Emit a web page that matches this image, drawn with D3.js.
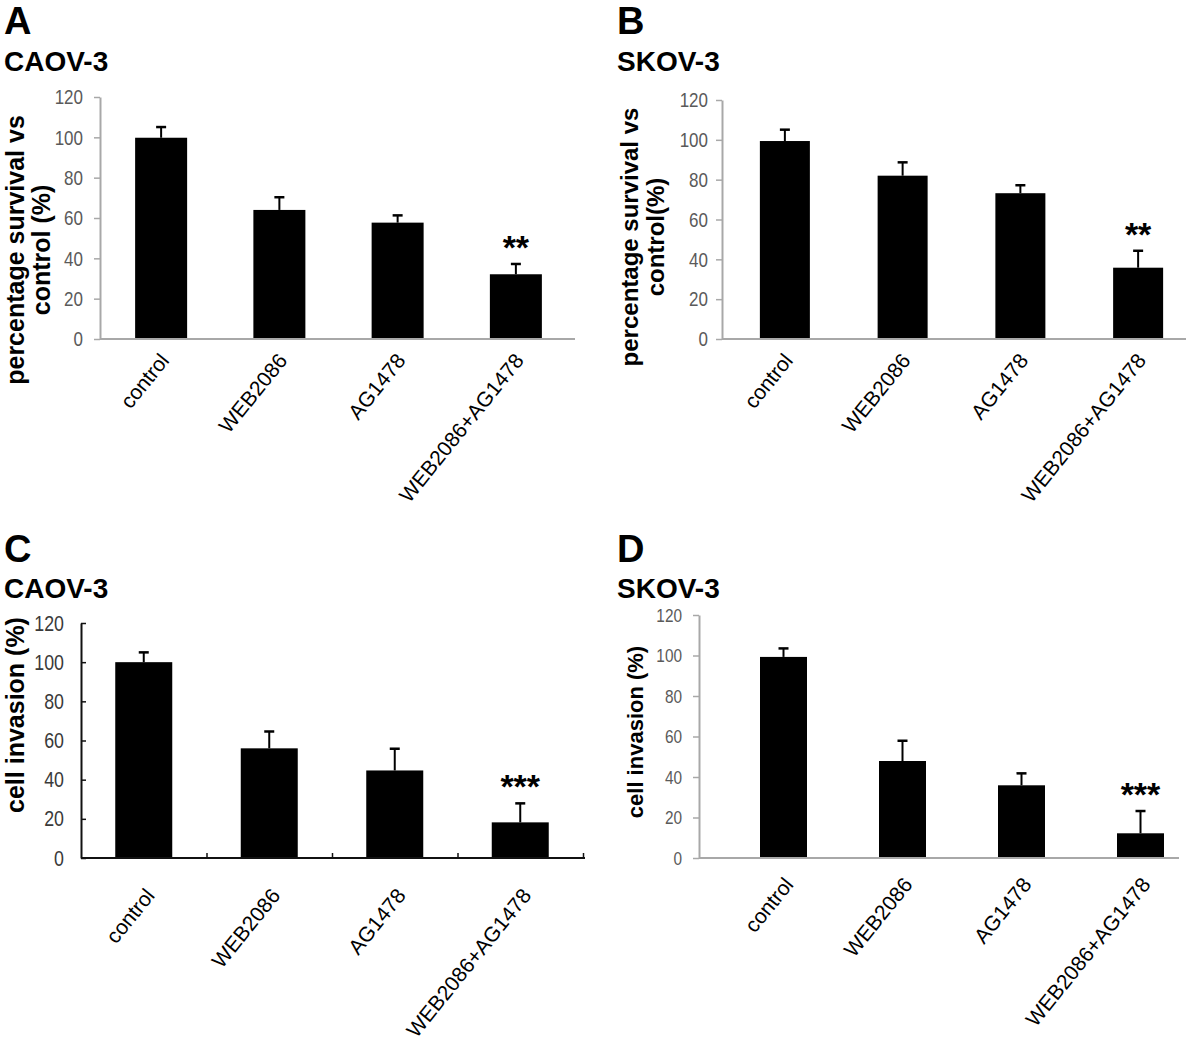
<!DOCTYPE html>
<html>
<head>
<meta charset="utf-8">
<script src="https://cdn.jsdelivr.net/npm/d3@7"></script>
<style>
  body { margin: 0; background: #fff; }
  svg { display: block; font-family: "Liberation Sans", Arial, sans-serif; }
</style>
</head>
<body>
<svg id="fig" width="1200" height="1044"></svg>
<script>
// categories and tick values shared by all four panels
let categories = ['control', 'WEB2086', 'AG1478', 'WEB2086+AG1478'];
let yTicks = [0, 20, 40, 60, 80, 100, 120];

// A: CAOV-3 survival, B: SKOV-3 survival
let survivalCAOV = [99.8, 64.0, 57.7, 32.1];
let survivalCAOVErr = [5.3, 6.3, 3.6, 5.1];
let survivalSKOV = [99.4, 82.0, 73.2, 35.8];
let survivalSKOVErr = [5.7, 6.7, 4.0, 8.5];

// C: CAOV-3 invasion, D: SKOV-3 invasion
let invasionCAOV = [100, 56.0, 44.7, 18.2];
let invasionCAOVErr = [5.0, 8.6, 11.1, 9.7];
let invasionSKOV = [99.3, 47.9, 35.9, 12.2];
let invasionSKOVErr = [4.2, 10.0, 5.9, 11.0];

let survivalStars = ['', '', '', '**'];
let invasionStars = ['', '', '', '***'];

// panel layout (positions and styles only)
let panels = [
    {
        letter: 'A', cell: 'CAOV-3', left: 4, letterY: 34, cellY: 71,
        values: survivalCAOV, errors: survivalCAOVErr, stars: survivalStars,
        axisX: 100, axisEnd: 575, yTop: 97, yBottom: 339,
        band: [102, 575], barWidth: 52,
        label: ['percentage survival vs', 'control (%)'], labelSize: 25,
        labelX: [24, 50], labelY: 250,
        tickSize: 6, tickPad: 11, tickFont: 21, tickColor: '#5a5a5a', axisColor: '#a8a8a8',
        catX: 9, catY: 22, catFont: 21, inner: false
    },
    {
        letter: 'B', cell: 'SKOV-3', left: 617, letterY: 34, cellY: 71,
        values: survivalSKOV, errors: survivalSKOVErr, stars: survivalStars,
        axisX: 722, axisEnd: 1186, yTop: 100, yBottom: 339,
        band: [726, 1197], barWidth: 50,
        label: ['percentage survival vs', 'control(%)'], labelSize: 24,
        labelX: [638, 664], labelY: 237,
        tickSize: 6, tickPad: 8, tickFont: 21, tickColor: '#5a5a5a', axisColor: '#a8a8a8',
        catX: 9, catY: 22, catFont: 21, inner: false
    },
    {
        letter: 'C', cell: 'CAOV-3', left: 4, letterY: 562, cellY: 598,
        values: invasionCAOV, errors: invasionCAOVErr, stars: invasionStars,
        axisX: 81, axisEnd: 585, yTop: 623, yBottom: 858,
        band: [81, 583], barWidth: 57,
        label: ['cell invasion (%)'], labelSize: 25,
        labelX: [24], labelY: 715,
        tickSize: -5, tickPad: 17, tickFont: 22, tickColor: '#3a3a3a', axisColor: '#111',
        catX: 12, catY: 38, catFont: 21, inner: true
    },
    {
        letter: 'D', cell: 'SKOV-3', left: 617, letterY: 562, cellY: 598,
        values: invasionSKOV, errors: invasionSKOVErr, stars: invasionStars,
        axisX: 699, axisEnd: 1179, yTop: 615, yBottom: 858,
        band: [724, 1200], barWidth: 47,
        label: ['cell invasion (%)'], labelSize: 22,
        labelX: [643], labelY: 732,
        tickSize: 6, tickPad: 11, tickFont: 19, tickColor: '#5a5a5a', axisColor: '#a8a8a8',
        catX: 11, catY: 27, catFont: 21, inner: false
    }
];

let svg = d3.select('#fig');

panels.forEach(function(p) {
    let g = svg.append('g');

    // panel letter and cell line
    g.append('text')
        .attr('x', p.left).attr('y', p.letterY)
        .style('font-size', '38px').style('font-weight', 'bold')
        .text(p.letter);
    g.append('text')
        .attr('x', p.left).attr('y', p.cellY)
        .style('font-size', '28px').style('font-weight', 'bold')
        .text(p.cell);

    let y = d3.scaleLinear().domain([0, 120]).range([p.yBottom, p.yTop]);
    let step = (p.band[1] - p.band[0]) / categories.length;
    let pad = 1 - p.barWidth / step;
    let x = d3.scaleBand().domain(categories).range(p.band)
        .paddingInner(pad).paddingOuter(pad / 2);

    // y axis
    let yAxis = g.append('g')
        .attr('transform', 'translate(' + p.axisX + ',0)')
        .call(d3.axisLeft(y).tickValues(yTicks).tickSize(p.tickSize)
            .tickSizeOuter(0).tickPadding(p.tickPad));
    yAxis.select('.domain').attr('stroke', p.axisColor).attr('stroke-width', 2);
    yAxis.selectAll('.tick line').attr('stroke', p.axisColor).attr('stroke-width', 1.5);
    // narrow digits like the original chart font
    yAxis.selectAll('.tick text')
        .attr('fill', p.tickColor)
        .style('font-family', '"Liberation Sans", Arial, sans-serif')
        .style('font-size', p.tickFont + 'px')
        .attr('textLength', function(d) { return String(d).length * p.tickFont * 0.45; })
        .attr('lengthAdjust', 'spacingAndGlyphs');

    // bars
    g.selectAll('.bar')
        .data(p.values)
        .enter().append('rect')
        .attr('x', function(d, i) { return x(categories[i]); })
        .attr('y', function(d) { return y(d); })
        .attr('width', x.bandwidth())
        .attr('height', function(d) { return y(0) - y(d); })
        .attr('fill', '#000');

    // error bars (upper half only)
    let eb = g.selectAll('.err')
        .data(p.values)
        .enter().append('g');
    eb.append('line')
        .attr('x1', function(d, i) { return x(categories[i]) + x.bandwidth() / 2; })
        .attr('x2', function(d, i) { return x(categories[i]) + x.bandwidth() / 2; })
        .attr('y1', function(d) { return y(d); })
        .attr('y2', function(d, i) { return y(d + p.errors[i]); })
        .attr('stroke', '#000').attr('stroke-width', 2);
    eb.append('line')
        .attr('x1', function(d, i) { return x(categories[i]) + x.bandwidth() / 2 - 5; })
        .attr('x2', function(d, i) { return x(categories[i]) + x.bandwidth() / 2 + 5; })
        .attr('y1', function(d, i) { return y(d + p.errors[i]); })
        .attr('y2', function(d, i) { return y(d + p.errors[i]); })
        .attr('stroke', '#000').attr('stroke-width', 2.5);

    // significance stars
    g.selectAll('.star')
        .data(p.values)
        .enter().append('text')
        .attr('x', function(d, i) { return x(categories[i]) + x.bandwidth() / 2; })
        .attr('y', function(d, i) { return y(d + p.errors[i]) - 5; })
        .attr('text-anchor', 'middle')
        .style('font-size', '34px').style('font-weight', 'bold')
        .text(function(d, i) { return p.stars[i]; });

    // x axis line
    g.append('line')
        .attr('x1', p.axisX).attr('x2', p.axisEnd)
        .attr('y1', y(0)).attr('y2', y(0))
        .attr('stroke', p.axisColor).attr('stroke-width', 2);

    // inner ticks between categories (panel C)
    if (p.inner) {
        let xb = d3.scaleLinear().domain([0, categories.length]).range(p.band);
        let bx = g.append('g')
            .attr('transform', 'translate(0,' + y(0) + ')')
            .call(d3.axisBottom(xb).tickValues([1, 2, 3, 4]).tickSize(-5).tickFormat(''));
        bx.select('.domain').remove();
        bx.selectAll('.tick line').attr('stroke', p.axisColor).attr('stroke-width', 1.5);
    }

    // category labels
    g.selectAll('.cat')
        .data(categories)
        .enter().append('text')
        .attr('transform', function(d) {
            return 'translate(' + (x(d) + x.bandwidth() / 2 + p.catX) + ',' +
                (y(0) + p.catY) + ') rotate(-51)';
        })
        .attr('text-anchor', 'end')
        .style('font-size', p.catFont + 'px')
        .text(function(d) { return d; });

    // y axis title
    p.label.forEach(function(line, i) {
        g.append('text')
            .attr('transform', 'translate(' + p.labelX[i] + ',' + p.labelY + ') rotate(-90)')
            .attr('text-anchor', 'middle')
            .style('font-size', p.labelSize + 'px').style('font-weight', 'bold')
            .text(line);
    });
});
</script>
</body>
</html>
